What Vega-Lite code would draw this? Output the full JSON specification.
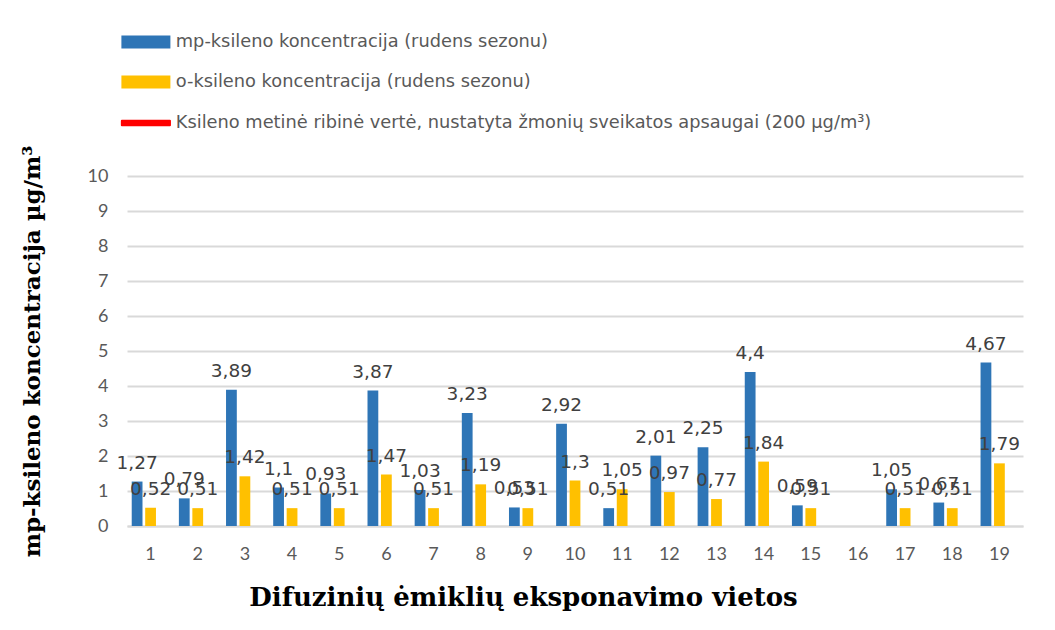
{
  "$schema": "https://vega.github.io/schema/vega-lite/v6.json",
  "width": 896,
  "height": 350,
  "autosize": {"type": "none"},
  "padding": {"left": 127, "top": 176, "right": 32, "bottom": 104},
  "background": "white",
  "config": {
    "view": {"stroke": null},
    "locale": {"number": {"decimal": ",", "thousands": " ", "grouping": [3], "currency": ["", " €"]}},
    "font": "Lato"
  },
  "datasets": {
    "bars": [
      {"vieta": 1, "serija": "mp-ksileno koncentracija (rudens sezonu)", "reiksme": 1.27},
      {"vieta": 1, "serija": "o-ksileno koncentracija (rudens sezonu)", "reiksme": 0.52},
      {"vieta": 2, "serija": "mp-ksileno koncentracija (rudens sezonu)", "reiksme": 0.79},
      {"vieta": 2, "serija": "o-ksileno koncentracija (rudens sezonu)", "reiksme": 0.51},
      {"vieta": 3, "serija": "mp-ksileno koncentracija (rudens sezonu)", "reiksme": 3.89},
      {"vieta": 3, "serija": "o-ksileno koncentracija (rudens sezonu)", "reiksme": 1.42},
      {"vieta": 4, "serija": "mp-ksileno koncentracija (rudens sezonu)", "reiksme": 1.1},
      {"vieta": 4, "serija": "o-ksileno koncentracija (rudens sezonu)", "reiksme": 0.51},
      {"vieta": 5, "serija": "mp-ksileno koncentracija (rudens sezonu)", "reiksme": 0.93},
      {"vieta": 5, "serija": "o-ksileno koncentracija (rudens sezonu)", "reiksme": 0.51},
      {"vieta": 6, "serija": "mp-ksileno koncentracija (rudens sezonu)", "reiksme": 3.87},
      {"vieta": 6, "serija": "o-ksileno koncentracija (rudens sezonu)", "reiksme": 1.47},
      {"vieta": 7, "serija": "mp-ksileno koncentracija (rudens sezonu)", "reiksme": 1.03},
      {"vieta": 7, "serija": "o-ksileno koncentracija (rudens sezonu)", "reiksme": 0.51},
      {"vieta": 8, "serija": "mp-ksileno koncentracija (rudens sezonu)", "reiksme": 3.23},
      {"vieta": 8, "serija": "o-ksileno koncentracija (rudens sezonu)", "reiksme": 1.19},
      {"vieta": 9, "serija": "mp-ksileno koncentracija (rudens sezonu)", "reiksme": 0.53},
      {"vieta": 9, "serija": "o-ksileno koncentracija (rudens sezonu)", "reiksme": 0.51},
      {"vieta": 10, "serija": "mp-ksileno koncentracija (rudens sezonu)", "reiksme": 2.92},
      {"vieta": 10, "serija": "o-ksileno koncentracija (rudens sezonu)", "reiksme": 1.3},
      {"vieta": 11, "serija": "mp-ksileno koncentracija (rudens sezonu)", "reiksme": 0.51},
      {"vieta": 11, "serija": "o-ksileno koncentracija (rudens sezonu)", "reiksme": 1.05},
      {"vieta": 12, "serija": "mp-ksileno koncentracija (rudens sezonu)", "reiksme": 2.01},
      {"vieta": 12, "serija": "o-ksileno koncentracija (rudens sezonu)", "reiksme": 0.97},
      {"vieta": 13, "serija": "mp-ksileno koncentracija (rudens sezonu)", "reiksme": 2.25},
      {"vieta": 13, "serija": "o-ksileno koncentracija (rudens sezonu)", "reiksme": 0.77},
      {"vieta": 14, "serija": "mp-ksileno koncentracija (rudens sezonu)", "reiksme": 4.4},
      {"vieta": 14, "serija": "o-ksileno koncentracija (rudens sezonu)", "reiksme": 1.84},
      {"vieta": 15, "serija": "mp-ksileno koncentracija (rudens sezonu)", "reiksme": 0.59},
      {"vieta": 15, "serija": "o-ksileno koncentracija (rudens sezonu)", "reiksme": 0.51},
      {"vieta": 17, "serija": "mp-ksileno koncentracija (rudens sezonu)", "reiksme": 1.05},
      {"vieta": 17, "serija": "o-ksileno koncentracija (rudens sezonu)", "reiksme": 0.51},
      {"vieta": 18, "serija": "mp-ksileno koncentracija (rudens sezonu)", "reiksme": 0.67},
      {"vieta": 18, "serija": "o-ksileno koncentracija (rudens sezonu)", "reiksme": 0.51},
      {"vieta": 19, "serija": "mp-ksileno koncentracija (rudens sezonu)", "reiksme": 4.67},
      {"vieta": 19, "serija": "o-ksileno koncentracija (rudens sezonu)", "reiksme": 1.79}
    ],
    "riba": [
      {"pavadinimas": "Ksileno metinė ribinė vertė, nustatyta žmonių sveikatos apsaugai (200 µg/m³)", "reiksme": 200}
    ]
  },
  "encoding": {
    "x": {
      "field": "vieta",
      "type": "ordinal",
      "scale": {"domain": [1,2,3,4,5,6,7,8,9,10,11,12,13,14,15,16,17,18,19], "paddingInner": 0.2, "paddingOuter": 0.1},
      "axis": {
        "title": "Difuzinių ėmiklių eksponavimo vietos",
        "titleFont": "DejaVu Serif",
        "titleFontWeight": "bold",
        "titleFontSize": 26,
        "titleColor": "#000000",
        "titleX": 396,
        "titleY": 71,
        "titleAlign": "center",
        "titleBaseline": "middle",
        "labelAngle": 0,
        "labelFont": "Lato",
        "labelFontSize": 18,
        "labelColor": "#595959",
        "labelPadding": 19,
        "ticks": false,
        "domainColor": "#D9D9D9",
        "domainWidth": 2,
        "grid": false
      }
    },
    "y": {
      "field": "reiksme",
      "type": "quantitative",
      "scale": {"domain": [0, 10], "nice": false},
      "axis": {
        "title": "mp-ksileno  koncentracija  µg/m³",
        "titleFont": "DejaVu Serif",
        "titleFontWeight": "bold",
        "titleFontSize": 23,
        "titleColor": "#000000",
        "titleAngle": 270,
        "titleX": -95,
        "titleY": 175,
        "titleAlign": "center",
        "titleBaseline": "middle",
        "values": [0,1,2,3,4,5,6,7,8,9,10],
        "labelFont": "Lato",
        "labelFontSize": 18,
        "labelColor": "#595959",
        "labelPadding": 19,
        "ticks": false,
        "domain": false,
        "gridColor": "#D9D9D9",
        "gridWidth": 2
      }
    }
  },
  "layer": [
    {
      "data": {"name": "bars"},
      "mark": {"type": "bar"},
      "encoding": {
        "xOffset": {
          "field": "serija",
          "type": "nominal",
          "scale": {"domain": ["mp-ksileno koncentracija (rudens sezonu)", "o-ksileno koncentracija (rudens sezonu)", " "], "paddingInner": 0.2, "paddingOuter": 0}
        },
        "color": {
          "field": "serija",
          "type": "nominal",
          "scale": {"domain": ["mp-ksileno koncentracija (rudens sezonu)", "o-ksileno koncentracija (rudens sezonu)"], "range": ["#2E75B6", "#FFC000"]},
          "legend": {
            "orient": "none",
            "legendX": 10,
            "legendY": -143,
            "title": null,
            "padding": 0,
            "symbolType": "M-3.77,-1H3.77V1H-3.77Z",
            "symbolSize": 169,
            "symbolStrokeWidth": 0,
            "labelOffset": 21,
            "labelFont": "DejaVu Sans",
            "labelFontSize": 17.8,
            "labelColor": "#595959",
            "rowPadding": 21,
            "labelLimit": 900
          }
        }
      }
    },
    {
      "data": {"name": "bars"},
      "mark": {"type": "text", "dy": -19, "baseline": "middle", "align": "center", "font": "DejaVu Sans", "fontSize": 18.5, "color": "#404040"},
      "encoding": {
        "xOffset": {"field": "serija", "type": "nominal"},
        "text": {"field": "reiksme", "type": "quantitative", "format": "~g"}
      }
    },
    {
      "data": {"name": "riba"},
      "mark": {"type": "rule", "clip": true, "strokeWidth": 3},
      "encoding": {
        "x": null,
        "y": {"field": "reiksme", "type": "quantitative"},
        "stroke": {
          "field": "pavadinimas",
          "type": "nominal",
          "scale": {"range": ["#FF0000"]},
          "legend": {
            "orient": "none",
            "legendX": 10,
            "legendY": -62,
            "title": null,
            "padding": 0,
            "symbolType": "M-3.7,-0.35H3.7V0.35H-3.7Z",
            "symbolSize": 169,
            "symbolFillColor": "#FF0000",
            "symbolStrokeColor": "#FF0000",
            "symbolStrokeWidth": 2,
            "labelOffset": 21,
            "labelFont": "DejaVu Sans",
            "labelFontSize": 17.8,
            "labelColor": "#595959",
            "labelLimit": 900,
            "encode": {"symbols": {"update": {"fill": {"value": "#FF0000"}, "stroke": {"value": "#FF0000"}, "strokeJoin": {"value": "round"}}}}
          }
        }
      }
    }
  ]
}
